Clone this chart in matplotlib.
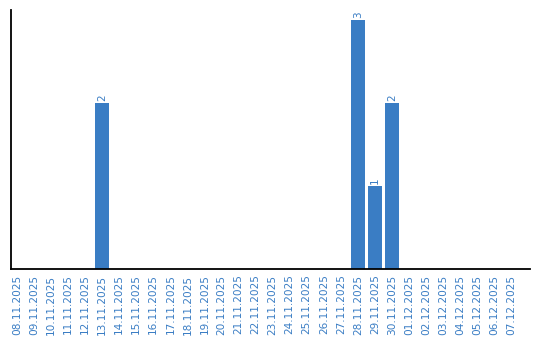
import numpy as np
import matplotlib
matplotlib.use("Agg")
import matplotlib.pyplot as plt

# data
dates = ["08.11.2025", "09.11.2025", "10.11.2025", "11.11.2025", "12.11.2025",
         "13.11.2025", "14.11.2025", "15.11.2025", "16.11.2025", "17.11.2025",
         "18.11.2025", "19.11.2025", "20.11.2025", "21.11.2025", "22.11.2025",
         "23.11.2025", "24.11.2025", "25.11.2025", "26.11.2025", "27.11.2025",
         "28.11.2025", "29.11.2025", "30.11.2025", "01.12.2025", "02.12.2025",
         "03.12.2025", "04.12.2025", "05.12.2025", "06.12.2025", "07.12.2025"]
counts = [0, 0, 0, 0, 0, 2, 0, 0, 0, 0,
          0, 0, 0, 0, 0, 0, 0, 0, 0, 0,
          3, 1, 2, 0, 0, 0, 0, 0, 0, 0]

blue = "#3a7dc4"

fig = plt.figure(figsize=(5.4, 3.4), dpi=100)
ax = fig.add_axes([11 / 540, 71 / 340, 519 / 540, 259 / 340])

x = np.arange(len(dates))
ax.bar(x, counts, width=0.8, color=blue)

# value labels on non-empty days
for xi, c in zip(x, counts):
    if c > 0:
        ax.text(xi, c + 0.02, str(c), rotation=90, ha="center", va="bottom",
                color=blue, fontsize=7.5)

ax.set_xlim(-0.35, 30.1)
ax.set_ylim(0, 3.12)
ax.set_xticks(x)
ax.set_xticklabels(dates, rotation=90, color=blue, fontsize=7.6)
ax.tick_params(axis="x", length=0, pad=4)
ax.set_yticks([])

ax.spines["top"].set_visible(False)
ax.spines["right"].set_visible(False)
ax.spines["left"].set_linewidth(1.3)
ax.spines["bottom"].set_linewidth(1.3)

fig.savefig("out.png", dpi=100)
